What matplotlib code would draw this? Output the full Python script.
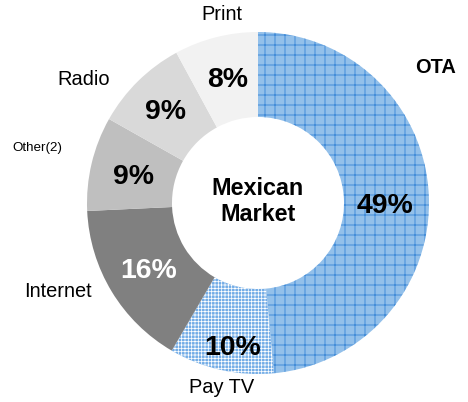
import matplotlib.pyplot as plt

plt.rcParams['font.family'] = ['Liberation Sans', 'DejaVu Sans']
plt.rcParams['hatch.linewidth'] = 0.9

# Udział w rynku (Mexican Market), od góry zgodnie z ruchem wskazówek zegara
categories = ['OTA', 'Pay TV', 'Internet', 'Other(2)', 'Radio', 'Print']
shares = [49, 10, 16, 9, 9, 8]
pct_labels = ['49%', '10%', '16%', '9%', '9%', '8%']

face_colors = ['#93c0ea', '#72ace6', '#808080', '#bfbfbf', '#d9d9d9', '#f2f2f2']
hatch_colors = ['#2a7dd3', '#ffffff', '#808080', '#bfbfbf', '#d9d9d9', '#f2f2f2']
hatches = ['+', '+++', '', '', '', '']
pct_colors = ['black', 'black', 'white', 'black', 'black', 'black']

# pozycje opisów (w promieniach pierścienia)
pct_pos = [(0.74, -0.02), (-0.15, -0.85), (-0.64, -0.40), (-0.73, 0.15), (-0.54, 0.53), (-0.18, 0.72)]
name_pos = [(1.04, 0.79), (-0.21, -1.08), (-1.17, -0.52), (-1.29, 0.32), (-1.02, 0.72), (-0.21, 1.10)]
name_size = [24, 24, 24, 16, 24, 24]
name_weight = ['bold', 'normal', 'normal', 'normal', 'normal', 'normal']

dpi = 60
fig = plt.figure(figsize=(468 / dpi, 402 / dpi), dpi=dpi)
ax = fig.add_axes([0, 0, 1, 1])

wedges, _ = ax.pie(shares, startangle=90, counterclock=False, radius=1.0,
                   wedgeprops=dict(width=0.497, linewidth=0))
for w, fc, hc, h in zip(wedges, face_colors, hatch_colors, hatches):
    w.set_facecolor(fc)
    w.set_edgecolor(hc)
    w.set_linewidth(0)
    if h:
        w.set_hatch(h)

for (x, y), txt, c in zip(pct_pos, pct_labels, pct_colors):
    ax.text(x, y, txt, ha='center', va='center', fontsize=34, fontweight='bold', color=c)

for (x, y), name, fs, fw in zip(name_pos, categories, name_size, name_weight):
    ax.text(x, y, name, ha='center', va='center', fontsize=fs, fontweight=fw, color='black')

ax.text(0, 0.01, 'Mexican\nMarket', ha='center', va='center', fontsize=28,
        fontweight='bold', linespacing=1.15)

ax.set_xlim(-258 / 171, 210 / 171)
ax.set_ylim(-199 / 171, 203 / 171)
ax.set_aspect('auto')
ax.axis('off')

plt.savefig('out.png', dpi=dpi)
